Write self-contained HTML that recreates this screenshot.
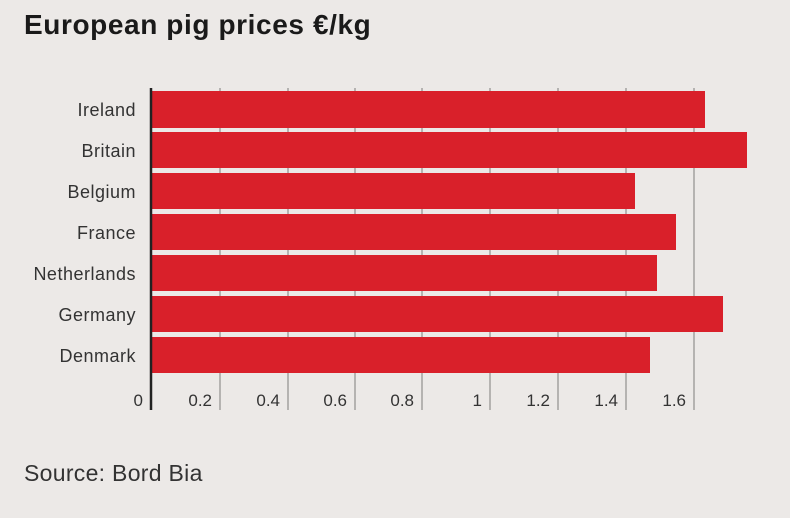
<!DOCTYPE html>
<html><head><style>
body{margin:0;width:790px;height:518px;background:#ece9e7;font-family:"Liberation Sans",sans-serif;overflow:hidden;position:relative}
.t{position:absolute;left:24px;top:9px;font-size:28px;font-weight:bold;color:#1a1a1a;letter-spacing:0.6px}
.s{position:absolute;left:24px;top:460px;font-size:23px;color:#333;letter-spacing:0.3px}
</style></head><body>
<div class="t">European pig prices €/kg</div>
<svg width="790" height="518" style="position:absolute;left:0;top:0">
<g stroke="#b5b3b1" stroke-width="2">
<line x1="220" y1="88" x2="220" y2="410"/><line x1="288" y1="88" x2="288" y2="410"/>
<line x1="355" y1="88" x2="355" y2="410"/><line x1="422" y1="88" x2="422" y2="410"/>
<line x1="490" y1="88" x2="490" y2="410"/><line x1="558" y1="88" x2="558" y2="410"/>
<line x1="626" y1="88" x2="626" y2="410"/><line x1="694" y1="88" x2="694" y2="410"/>
</g>
<g fill="#d9202a">
<rect x="152" y="91" width="553" height="37"/>
<rect x="152" y="132" width="595" height="36"/>
<rect x="152" y="173" width="483" height="36"/>
<rect x="152" y="214" width="524" height="36"/>
<rect x="152" y="255" width="505" height="36"/>
<rect x="152" y="296" width="571" height="36"/>
<rect x="152" y="337" width="498" height="36"/>
</g>
<line x1="151" y1="88" x2="151" y2="410" stroke="#222" stroke-width="2.5"/>
<g font-size="18" fill="#333" text-anchor="end" font-family="Liberation Sans,sans-serif" letter-spacing="0.5">
<text x="136" y="116">Ireland</text><text x="136" y="157">Britain</text>
<text x="136" y="198">Belgium</text><text x="136" y="239">France</text>
<text x="136" y="280">Netherlands</text><text x="136" y="321">Germany</text>
<text x="136" y="362">Denmark</text>
</g>
<g font-size="17" fill="#333" text-anchor="end" font-family="Liberation Sans,sans-serif">
<text x="143" y="406">0</text><text x="212" y="406">0.2</text><text x="280" y="406">0.4</text>
<text x="347" y="406">0.6</text><text x="414" y="406">0.8</text><text x="482" y="406">1</text>
<text x="550" y="406">1.2</text><text x="618" y="406">1.4</text><text x="686" y="406">1.6</text>
</g>
</svg>
<div class="s">Source: Bord Bia</div>
</body></html>
